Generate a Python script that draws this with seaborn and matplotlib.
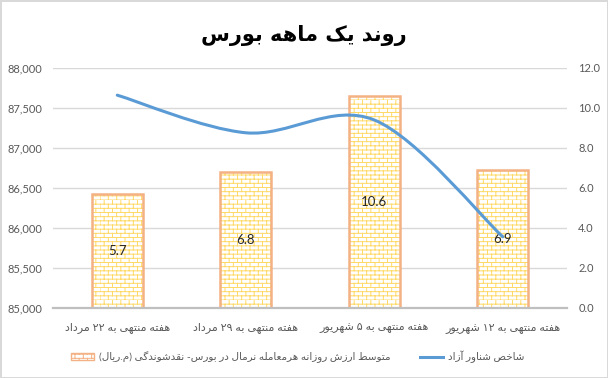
import re
import warnings
import numpy as np
import pandas as pd
import seaborn as sns
import matplotlib.pyplot as plt
from matplotlib import hatch as mhatch
from matplotlib.path import Path
from matplotlib.patches import PathPatch, Patch
from matplotlib.lines import Line2D
from matplotlib.ticker import FuncFormatter

warnings.filterwarnings('ignore')

# داده‌ها
weeks = ['هفته منتهی به ۲۲ مرداد', 'هفته منتهی به ۲۹ مرداد',
         'هفته منتهی به ۵ شهریور', 'هفته منتهی به ۱۲ شهریور']
trade_value = [5.7, 6.8, 10.6, 6.9]
free_float_index = [87660, 87190, 87350, 85890]

title = 'روند یک ماهه بورس'
bar_label = 'متوسط ارزش روزانه هرمعامله نرمال در بورس- نقدشوندگی (م.ریال)'
line_label = 'شاخص شناور آزاد'


# matplotlib does no arabic shaping / bidi, so do a small version here
DUAL = {'ب': 0xFE8F, 'ت': 0xFE95, 'خ': 0xFEA5, 'س': 0xFEB1, 'ش': 0xFEB5,
        'ص': 0xFEB9, 'ط': 0xFEC1, 'ع': 0xFEC9, 'ف': 0xFED1, 'ق': 0xFED5,
        'ک': 0xFB8E, 'گ': 0xFB92, 'ل': 0xFEDD, 'م': 0xFEE1, 'ن': 0xFEE5,
        'ه': 0xFEE9, 'ی': 0xFBFC}
RIGHT = {'آ': 0xFE81, 'ا': 0xFE8D, 'د': 0xFEA9, 'ر': 0xFEAD, 'ز': 0xFEAF,
         'و': 0xFEED}


def fa(text):
    out = []
    for i, ch in enumerate(text):
        prev = text[i - 1] if i > 0 else ''
        nxt = text[i + 1] if i + 1 < len(text) else ''
        if ch in DUAL:
            a = prev in DUAL
            b = nxt in DUAL or nxt in RIGHT
            out.append(chr(DUAL[ch] + (3 if a and b else 1 if a else 2 if b else 0)))
        elif ch in RIGHT:
            out.append(chr(RIGHT[ch] + (1 if prev in DUAL else 0)))
        else:
            out.append(ch)
    runs = re.findall(r'[0-9\u06F0-\u06F9]+|.', ''.join(out))
    mirror = {'(': ')', ')': '('}
    return ''.join(mirror.get(r, r) for r in reversed(runs))


# brick hatch (excel "brick" pattern fill)
class BrickHatch(mhatch.HatchPatternBase):
    def __init__(self, hatch, density):
        self.on = hatch.count('b') > 0
        self.rows, self.cols = 24, 12
        self.num_vertices = (2 * self.rows + 2 * self.rows * self.cols) if self.on else 0

    def set_vertices_and_codes(self, vertices, codes):
        v = []
        for i in range(self.rows):
            y0, y1 = i / self.rows, (i + 1) / self.rows
            v += [(0, y0), (1, y0)]
            for j in range(self.cols):
                x = (j + 0.5 * (i % 2)) / self.cols
                v += [(x, y0), (x, y1)]
        vertices[:] = np.array(v)
        codes[0::2] = Path.MOVETO
        codes[1::2] = Path.LINETO


mhatch._hatch_types.append(BrickHatch)

plt.rcParams['font.family'] = ['Lato', 'DejaVu Sans']
plt.rcParams['hatch.linewidth'] = 0.7

labels = [fa(w) for w in weeks]
df = pd.DataFrame({'week': labels, 'value': trade_value, 'index': free_float_index})

fig = plt.figure(figsize=(6.08, 3.78), dpi=100)
fig.patch.set_edgecolor('#D9D9D9')
fig.patch.set_linewidth(2)
ax = fig.add_axes([0.0872, 0.1852, 0.8454, 0.635])

sns.barplot(data=df, x='week', y='value', ax=ax, width=0.4, color='white',
            edgecolor='#FFD966', linewidth=0, hatch='b')
ax.bar_label(ax.containers[0], label_type='center', fmt='%.1f',
             fontsize=9.5, color='#262626')
sns.barplot(data=df, x='week', y='value', ax=ax, width=0.4, color='#F4B183',
            fill=False, linewidth=1.8)

# خط شاخص (smoothed like excel)
ax2 = ax.twinx()
ax2.set_ylim(85000, 88000)
ax2.set_yticks(np.arange(85000, 88001, 500))
ax2.yaxis.tick_left()
ax2.yaxis.set_major_formatter(FuncFormatter(lambda v, p: f'{v:,.0f}'))
ax2.tick_params(axis='y', length=0, pad=8, labelsize=8, labelcolor='#595959')
for s in ax2.spines.values():
    s.set_visible(False)

ax.set_ylim(0, 12)
ax.set_yticks(np.arange(0, 12.1, 2))
ax.yaxis.tick_right()
ax.yaxis.set_major_formatter(FuncFormatter(lambda v, p: f'{v:.1f}'))
ax.set_axisbelow(True)
ax.yaxis.grid(True, color='#D9D9D9', linewidth=1)
for s in ['left', 'right', 'top']:
    ax.spines[s].set_visible(False)
ax.spines['bottom'].set_color('#BFBFBF')
ax.spines['bottom'].set_linewidth(1.6)
ax.tick_params(axis='y', length=0, pad=8, labelsize=8, labelcolor='#595959')
ax.tick_params(axis='x', length=0, pad=10, labelsize=8, labelcolor='#595959')
ax.set_xlabel('')
ax.set_ylabel('')

pts = np.column_stack([np.arange(len(free_float_index)), free_float_index]).astype(float)
ext = np.vstack([pts[0], pts, pts[-1]])
verts, codes = [pts[0]], [Path.MOVETO]
for i in range(len(pts) - 1):
    c1 = ext[i + 1] + (ext[i + 2] - ext[i]) / 6
    c2 = ext[i + 2] - (ext[i + 3] - ext[i + 1]) / 6
    verts += [c1, c2, ext[i + 2]]
    codes += [Path.CURVE4] * 3
ax2.add_patch(PathPatch(Path(verts, codes), fill=False, edgecolor='#5B9BD5',
                        linewidth=2.2, capstyle='round'))
ax2.set_xlim(ax.get_xlim())

fig.text(0.499, 0.907, fa(title), ha='center', va='center', fontsize=15,
         fontweight='bold', family='DejaVu Sans')

handles = [Patch(facecolor='white', edgecolor='#F4B183', hatch='b', linewidth=1),
           Line2D([0], [0], color='#5B9BD5', linewidth=2.2)]
fig.legend(handles, [fa(bar_label), fa(line_label)], loc='center',
           bbox_to_anchor=(0.49, 0.056), ncol=2, frameon=False, fontsize=7.5,
           labelcolor='#595959', handlelength=2.2, handleheight=0.7,
           columnspacing=2.8, handletextpad=0.5)

plt.savefig('out.png', dpi=100)
